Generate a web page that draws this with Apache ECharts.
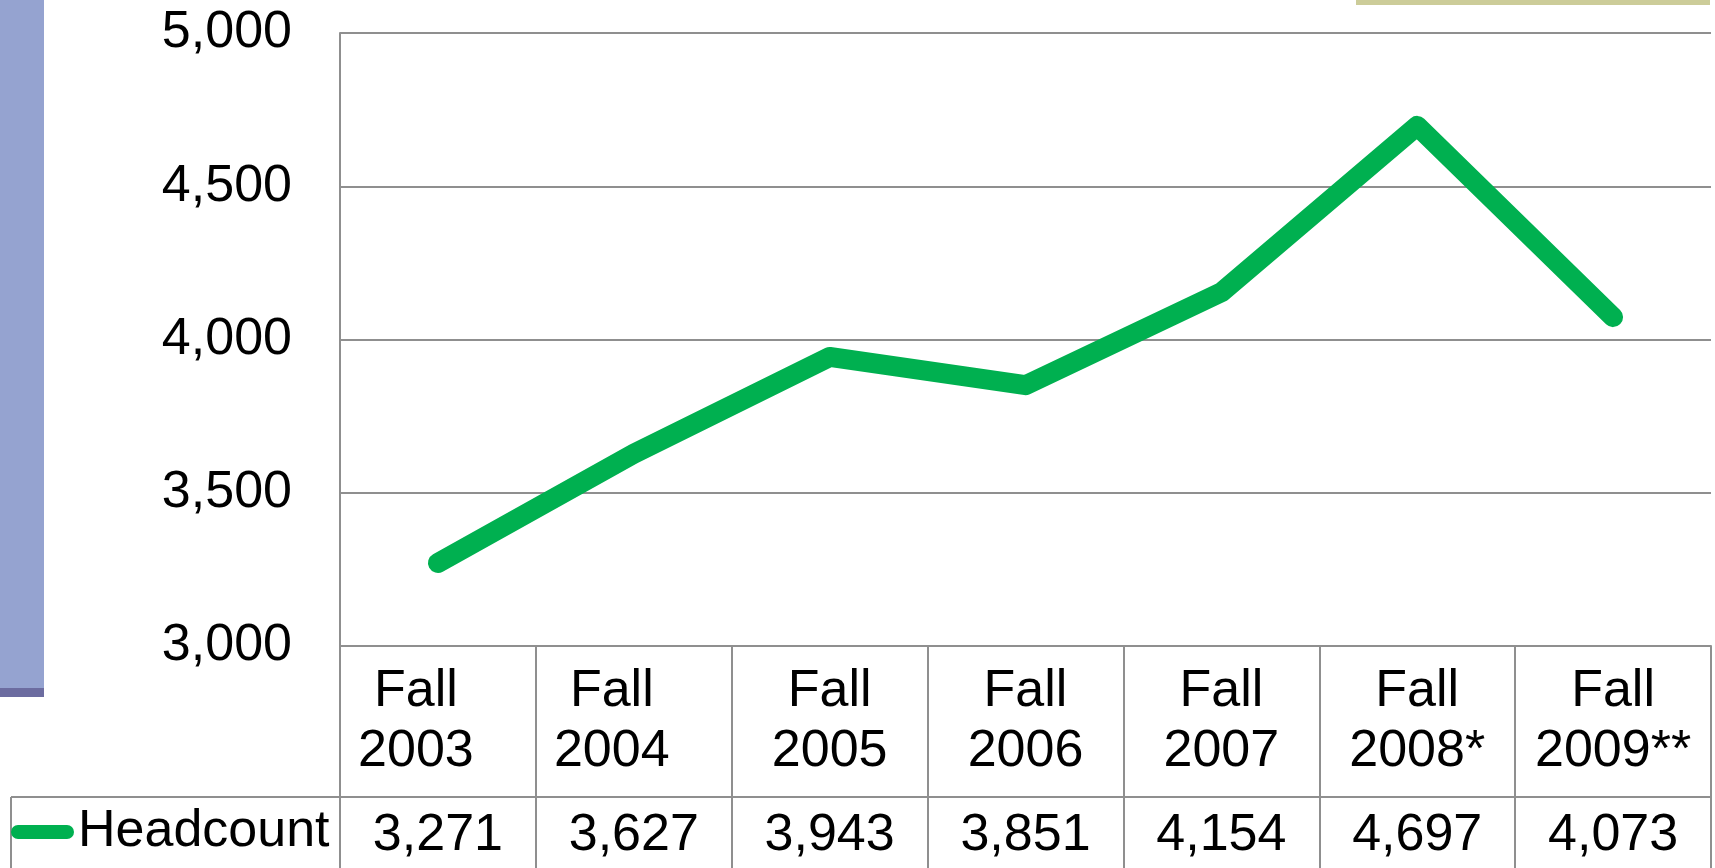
<!DOCTYPE html>
<html>
<head>
<meta charset="utf-8">
<title>Headcount</title>
<script src="https://cdn.jsdelivr.net/npm/echarts@6/dist/echarts.min.js"></script>
<style>
  html, body { margin: 0; padding: 0; background: #fff; }
  #chart { width: 1715px; height: 868px; }
</style>
</head>
<body>
<div id="chart"></div>
<script>
// data
const categories = ['Fall\n2003', 'Fall\n2004', 'Fall\n2005', 'Fall\n2006', 'Fall\n2007', 'Fall\n2008*', 'Fall\n2009**'];
const headcount = [3271, 3627, 3943, 3851, 4154, 4697, 4073];
const seriesName = 'Headcount';
const yMin = 3000;
const yMax = 5000;
const yStep = 500;

const fmt = v => Number(v).toLocaleString('en-US');
const font = "'Liberation Sans', Arial, sans-serif";
const gray = '#8f8f8f';

// the first two headers sit a bit left of centre in the original
const catItems = categories.map((c, i) => (
  i < 2 ? { value: c, textStyle: { padding: [0, 44, 0, 0] } } : c
));

const myChart = echarts.init(document.getElementById('chart'), null, { renderer: 'canvas' });

const option = {
  animation: false,
  textStyle: { fontFamily: font },
  grid: { left: 340, top: 33, right: 4, bottom: 222, containLabel: false },
  legend: {
    data: [seriesName],
    left: 11,
    top: 806,
    padding: 0,
    icon: 'path://M7,0 H56 A7,7 0 0 1 56,14 H7 A7,7 0 0 1 7,0 Z',
    itemWidth: 63,
    itemHeight: 14,
    itemGap: 0,
    textStyle: { fontSize: 52, color: '#000', fontFamily: font, padding: [0, 0, 0, -1] }
  },
  xAxis: [
    {
      type: 'category',
      data: catItems,
      boundaryGap: true,
      axisLine: { show: true, lineStyle: { color: gray, width: 2 } },
      axisTick: { show: true, interval: 0, length: 240, lineStyle: { color: gray, width: 2 } },
      axisLabel: { interval: 0, fontSize: 52, lineHeight: 60, margin: 16, color: '#000', fontFamily: font }
    },
    {
      // data table row
      type: 'category',
      data: headcount.map(fmt),
      position: 'bottom',
      offset: 151,
      boundaryGap: true,
      axisLine: { show: true, lineStyle: { color: gray, width: 2 } },
      axisTick: { show: false },
      axisLabel: { interval: 0, fontSize: 52, lineHeight: 60, margin: 9, color: '#000', fontFamily: font }
    }
  ],
  yAxis: {
    type: 'value',
    min: yMin,
    max: yMax,
    interval: yStep,
    axisLine: { show: true, lineStyle: { color: gray, width: 2 } },
    axisTick: { show: false },
    splitLine: { show: true, lineStyle: { color: gray, width: 2 } },
    axisLabel: { fontSize: 52, margin: 48, color: '#000', fontFamily: font, formatter: fmt }
  },
  series: [
    {
      name: seriesName,
      type: 'line',
      data: headcount,
      xAxisIndex: 0,
      showSymbol: false,
      symbol: 'none',
      color: '#00b050',
      lineStyle: { color: '#00b050', width: 20, cap: 'round', join: 'round' }
    }
  ],
  graphic: [
    // slide decorations
    { type: 'rect', shape: { x: 0, y: 0, width: 44, height: 688 }, style: { fill: '#95a3d0' }, silent: true },
    { type: 'rect', shape: { x: 0, y: 688, width: 44, height: 9 }, style: { fill: '#6c6ca0' }, silent: true },
    { type: 'rect', shape: { x: 1356, y: 0, width: 354, height: 5 }, style: { fill: '#cccc99' }, silent: true },
    // legend cell of the data table
    { type: 'line', shape: { x1: 11, y1: 797, x2: 340, y2: 797 }, style: { stroke: gray, lineWidth: 2 }, silent: true },
    { type: 'line', shape: { x1: 11, y1: 797, x2: 11, y2: 868 }, style: { stroke: gray, lineWidth: 2 }, silent: true }
  ]
};

myChart.setOption(option);
</script>
</body>
</html>
